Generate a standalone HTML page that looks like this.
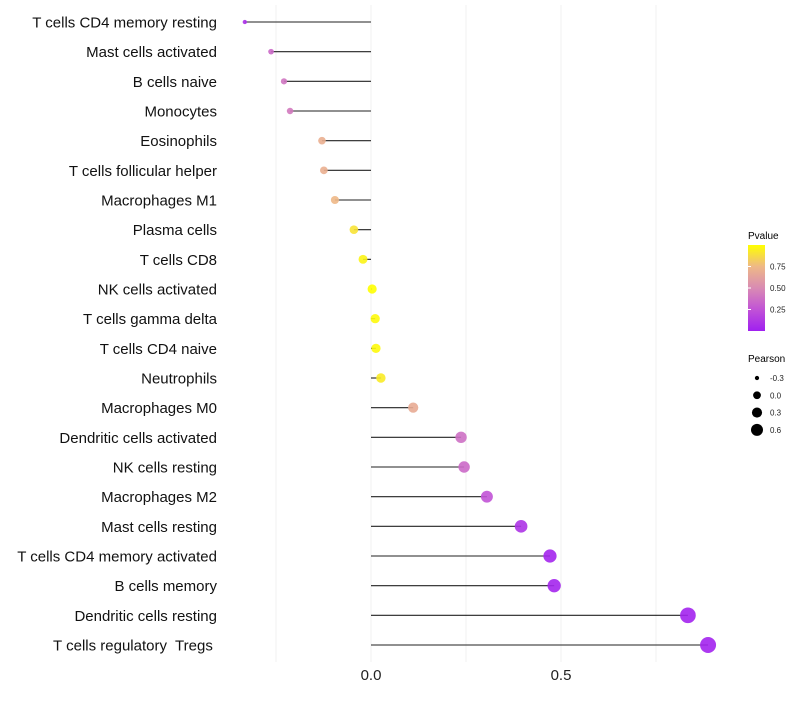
<!DOCTYPE html>
<html><head><meta charset="utf-8"><style>
body{margin:0;background:#fff;width:800px;height:700px;overflow:hidden}
svg{font-family:"Liberation Sans",sans-serif}
text{white-space:pre}
</style></head><body>
<svg id="chart" width="800" height="700">
<defs><linearGradient id="pg" x1="0" y1="1" x2="0" y2="0">
<stop offset="0" stop-color="#a020f0"/><stop offset="0.25" stop-color="#c153d6"/><stop offset="0.5" stop-color="#d98bb3"/><stop offset="0.75" stop-color="#eeb887"/><stop offset="1" stop-color="#ffff00"/></linearGradient></defs>
<g id="grid"></g>
<g id="marks"></g>
<g id="labels"></g>
<g id="xt"></g>
<g>
<text x="748" y="239" font-size="10">Pvalue</text>
<rect x="748" y="245" width="17" height="86" fill="url(#pg)"/>
<g id="cbt"></g>
</g>
<g id="sizeleg">
<text x="748" y="362" font-size="10">Pearson</text>
</g>
</svg>
<script>
const categories=["T cells CD4 memory resting","Mast cells activated","B cells naive","Monocytes","Eosinophils","T cells follicular helper","Macrophages M1","Plasma cells","T cells CD8","NK cells activated","T cells gamma delta","T cells CD4 naive","Neutrophils","Macrophages M0","Dendritic cells activated","NK cells resting","Macrophages M2","Mast cells resting","T cells CD4 memory activated","B cells memory","Dendritic cells resting","T cells regulatory  Tregs "];
const pearson=[-0.332,-0.263,-0.229,-0.213,-0.129,-0.124,-0.095,-0.045,-0.021,0.003,0.011,0.013,0.026,0.111,0.237,0.245,0.305,0.395,0.471,0.482,0.834,0.887];
const pvalue=[0.08,0.35,0.4,0.42,0.7,0.7,0.75,0.9,0.96,1.0,0.98,0.98,0.93,0.68,0.38,0.35,0.25,0.1,0.03,0.03,0.02,0.02];
const xTicks=[0,0.5];
const xTickLabels=["0.0","0.5"];
const gridVals=[-0.25,0.25,0.75];
const cbTicks=[0.25,0.5,0.75];
const cbLabels=["0.25","0.50","0.75"];
const sizeLegend=[-0.3,0,0.3,0.6];
const sizeLabels=["-0.3","0.0","0.3","0.6"];
const NS="http://www.w3.org/2000/svg";
const X=v=>371+v*380;
const Y=i=>22+i*(623/21);
const R=v=>Math.sqrt(Math.max(3,20.9+48.6*v));
const stops=[[0,[160,32,240]],[0.25,[193,83,214]],[0.5,[217,139,179]],[0.75,[238,184,135]],[1,[255,255,0]]];
function col(p){p=Math.max(0,Math.min(1,p));for(let k=0;k<4;k++){const a=stops[k],b=stops[k+1];if(p<=b[0]){const t=(p-a[0])/(b[0]-a[0]);return 'rgb('+a[1].map((c,j)=>Math.round(c+(b[1][j]-c)*t)).join(',')+')';}}}
function mk(tag,attrs,parent){const e=document.createElementNS(NS,tag);for(const k in attrs)e.setAttribute(k,attrs[k]);document.getElementById(parent).appendChild(e);return e;}
gridVals.concat(xTicks).forEach(v=>{const l=mk('line',{x1:X(v),x2:X(v),y1:5,y2:662,stroke:'#f0f0f0','stroke-width':1},'grid');

});
xTicks.forEach((v,i)=>{const t=mk('text',{x:X(v),y:680,'font-size':15,'text-anchor':'middle',fill:'#222'},'xt');t.textContent=xTickLabels[i];

});
categories.forEach((c,i)=>{const y=Y(i);
const t=mk('text',{x:217,y:y+5.5,'font-size':15,'text-anchor':'end',fill:'#111'},'labels');t.textContent=c;


const l=mk('line',{x1:X(0),x2:X(pearson[i]),y1:y,y2:y,stroke:'#222','stroke-width':1.1},'marks');


const d=mk('circle',{cx:X(pearson[i]),cy:y,r:R(pearson[i]),fill:col(pvalue[i]),'fill-opacity':0.9},'marks');

});
cbTicks.forEach((p,i)=>{const y=331-p*86;
const l=mk('line',{x1:748,x2:751,y1:y,y2:y,stroke:'#fff'},'cbt');


const t=mk('text',{x:770,y:y+3,'font-size':8,fill:'#222'},'cbt');t.textContent=cbLabels[i];

});
sizeLegend.forEach((v,i)=>{const y=378+i*17.3;
const c=mk('circle',{cx:757,cy:y,r:R(v)*0.85,fill:'#000'},'sizeleg');


const t=mk('text',{x:770,y:y+3,'font-size':8,fill:'#222'},'sizeleg');t.textContent=sizeLabels[i];

});
</script>
</body></html>
